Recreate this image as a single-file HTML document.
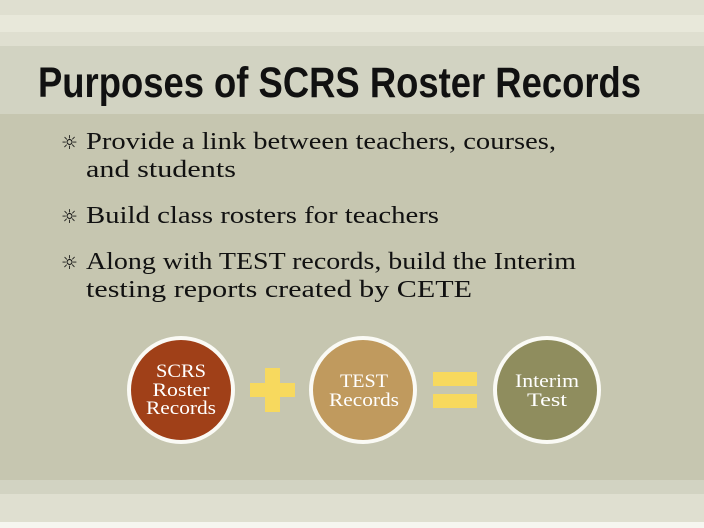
<!DOCTYPE html>
<html><head><meta charset="utf-8"><style>
html,body{margin:0;padding:0;background:#fff}
svg{display:block}
</style></head><body>
<svg width="704" height="528" xmlns="http://www.w3.org/2000/svg">
<rect x="0" y="0" width="704" height="528" fill="#f6f6f0"/>
<rect x="0" y="0" width="704" height="15" fill="#dfdfd0"/>
<rect x="0" y="15" width="704" height="17" fill="#e8e8da"/>
<rect x="0" y="32" width="704" height="14" fill="#dfdfd0"/>
<rect x="0" y="46" width="704" height="68" fill="#d2d3c2"/>
<rect x="0" y="114" width="704" height="366" fill="#c6c6b0"/>
<rect x="0" y="480" width="704" height="14" fill="#d2d3c2"/>
<rect x="0" y="494" width="704" height="28" fill="#dfdfd0"/>
<text x="38" y="97" font-family="Liberation Sans, sans-serif" font-weight="bold" font-size="43" fill="#111" textLength="603" lengthAdjust="spacingAndGlyphs">Purposes of SCRS Roster Records</text>
<g font-family="Liberation Serif, serif" font-size="24" fill="#111" lengthAdjust="spacingAndGlyphs">
<text x="61" y="149" font-family="DejaVu Sans, sans-serif" font-size="19">☼</text>
<text x="86" y="149" textLength="470" lengthAdjust="spacingAndGlyphs">Provide a link between teachers, courses,</text>
<text x="86" y="177" textLength="150" lengthAdjust="spacingAndGlyphs">and students</text>
<text x="61" y="223" font-family="DejaVu Sans, sans-serif" font-size="19">☼</text>
<text x="86" y="223" textLength="353" lengthAdjust="spacingAndGlyphs">Build class rosters for teachers</text>
<text x="61" y="269" font-family="DejaVu Sans, sans-serif" font-size="19">☼</text>
<text x="86" y="269" textLength="490" lengthAdjust="spacingAndGlyphs">Along with TEST records, build the Interim</text>
<text x="86" y="297" textLength="386" lengthAdjust="spacingAndGlyphs">testing reports created by CETE</text>
</g>
<circle cx="181" cy="390" r="52" fill="#a04018" stroke="#fafaf5" stroke-width="4"/>
<circle cx="363" cy="390" r="52" fill="#c09a5e" stroke="#fafaf5" stroke-width="4"/>
<circle cx="547" cy="390" r="52" fill="#8f8d5e" stroke="#fafaf5" stroke-width="4"/>
<rect x="265" y="368" width="15" height="44" fill="#f7d95e"/>
<rect x="250" y="383" width="45" height="14" fill="#f7d95e"/>
<rect x="433" y="372" width="44" height="14" fill="#f7d95e"/>
<rect x="433" y="394" width="44" height="14" fill="#f7d95e"/>
<g font-family="Liberation Serif, serif" font-size="19" fill="#fff" text-anchor="middle">
<text x="181" y="377" textLength="50" lengthAdjust="spacingAndGlyphs">SCRS</text>
<text x="181" y="396" textLength="57" lengthAdjust="spacingAndGlyphs">Roster</text>
<text x="181" y="414" textLength="70" lengthAdjust="spacingAndGlyphs">Records</text>
<text x="364" y="387" textLength="48" lengthAdjust="spacingAndGlyphs">TEST</text>
<text x="364" y="406" textLength="70" lengthAdjust="spacingAndGlyphs">Records</text>
<text x="547" y="387" textLength="64" lengthAdjust="spacingAndGlyphs">Interim</text>
<text x="547" y="406" textLength="40" lengthAdjust="spacingAndGlyphs">Test</text>
</g>
</svg>
</body></html>
